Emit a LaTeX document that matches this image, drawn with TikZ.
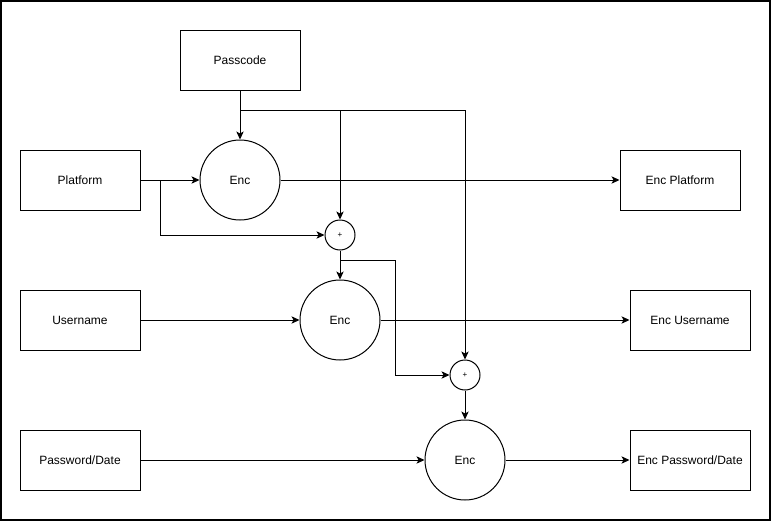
\documentclass[tikz,border=0pt]{standalone}
\usepackage{fontspec}
\setmainfont{Liberation Sans}
\usetikzlibrary{arrows.meta}

\begin{document}
\begin{tikzpicture}[
  x=0.75pt,y=-0.75pt,
  every node/.style={font=\fontsize{9}{11}\selectfont},
  block/.style={rectangle,draw,line width=0.75pt,minimum width=90pt,minimum height=45pt,inner sep=0pt},
  encnode/.style={circle,draw,line width=0.75pt,minimum size=60pt,inner sep=0pt},
  xornode/.style={circle,draw,line width=0.75pt,minimum size=22.5pt,inner sep=0pt,font=\fontsize{6}{7}\selectfont},
  arr/.style={-{Stealth[length=6pt,width=5.5pt,inset=1.5pt]},line width=0.75pt},
  wire/.style={line width=0.75pt}
]
\useasboundingbox (0,0) rectangle (771,521);
\draw[line width=1.2pt] (1,1) rectangle (770,520);

% inputs
\node[block] (pass) at (240,60) {Passcode};
\node[block] (platform) at (80,180) {Platform};
\node[block] (user) at (80,320) {Username};
\node[block] (pwd) at (80,460) {Password/Date};

% encryption and mixing
\node[encnode] (enc1) at (240,180) {Enc};
\node[encnode] (enc2) at (340,320) {Enc};
\node[encnode] (enc3) at (465,460) {Enc};
\node[xornode] (plus1) at (340,235) {+};
\node[xornode] (plus2) at (465,375) {+};

% outputs
\node[block] (outplat) at (680,180) {Enc Platform};
\node[block] (outuser) at (690,320) {Enc Username};
\node[block] (outpwd) at (690,460) {Enc Password/Date};

% split points
\coordinate (keysplit) at (240,110);
\coordinate (keytap) at (340,110);
\coordinate (platfork) at (160,180);
\coordinate (mixfork) at (340,260);
\coordinate (mixbend) at (395,260);

\draw[arr] (pass) -- (enc1);
\draw[arr] (keysplit) -| (plus2);
\draw[arr] (keytap) -- (plus1);
\draw[arr] (platform) -- (enc1);
\draw[arr] (platfork) |- (plus1);
\draw[arr] (enc1) -- (outplat);
\draw[arr] (plus1) -- (enc2);
\draw[wire] (mixfork) -- (mixbend);
\draw[arr] (mixbend) |- (plus2);
\draw[arr] (user) -- (enc2);
\draw[arr] (enc2) -- (outuser);
\draw[arr] (plus2) -- (enc3);
\draw[arr] (pwd) -- (enc3);
\draw[arr] (enc3) -- (outpwd);
\end{tikzpicture}
\end{document}
